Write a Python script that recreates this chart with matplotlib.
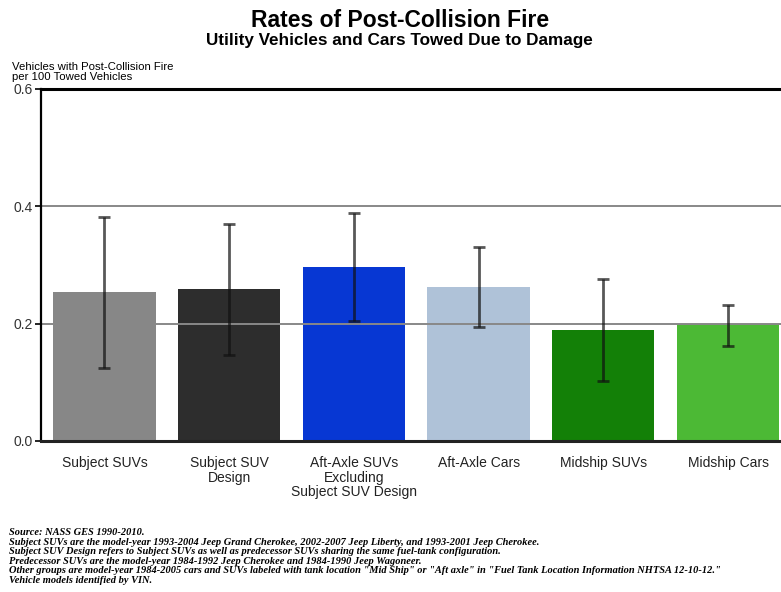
import numpy as np
import matplotlib
matplotlib.use('Agg')
import matplotlib.pyplot as plt

# 数据
categories = ['Subject SUVs', 'Subject SUV\nDesign',
              'Aft-Axle SUVs\nExcluding\nSubject SUV Design',
              'Aft-Axle Cars', 'Midship SUVs', 'Midship Cars']
rates = [0.254, 0.259, 0.297, 0.263, 0.190, 0.199]
err_low = [0.125, 0.147, 0.205, 0.194, 0.102, 0.162]
err_high = [0.382, 0.370, 0.389, 0.330, 0.276, 0.231]
bar_colors = ['#878787', '#2d2d2d', '#0737d3', '#afc2d8', '#138007', '#4cb935']
yticks = [0.0, 0.2, 0.4, 0.6]

notes = [
    'Source: NASS GES 1990-2010.',
    'Subject SUVs are the model-year 1993-2004 Jeep Grand Cherokee, 2002-2007 Jeep Liberty, and 1993-2001 Jeep Cherokee.',
    'Subject SUV Design refers to Subject SUVs as well as predecessor SUVs sharing the same fuel-tank configuration.',
    'Predecessor SUVs are the model-year 1984-1992 Jeep Cherokee and 1984-1990 Jeep Wagoneer.',
    'Other groups are model-year 1984-2005 cars and SUVs labeled with tank location "Mid Ship" or "Aft axle" in "Fuel Tank Location Information NHTSA 12-10-12."',
    'Vehicle models identified by VIN.',
]

plt.rcParams['font.family'] = ['Liberation Sans', 'DejaVu Sans']

fig = plt.figure(figsize=(7.81, 5.92), dpi=100)
ax = fig.add_axes([0.0525, 0.2551, 0.959, 0.5946])

x = np.arange(len(categories))
rates = np.array(rates)
yerr = np.array([rates - np.array(err_low), np.array(err_high) - rates])

ax.bar(x, rates, width=0.82, color=bar_colors, zorder=1)
for v in [0.2, 0.4]:
    ax.axhline(v, color='#888888', lw=1.4, zorder=2)
ax.errorbar(x, rates, yerr=yerr, fmt='none', ecolor='#111111', alpha=0.7,
            elinewidth=2, capsize=4, capthick=2, zorder=3)

ax.set_xlim(-0.509, 5.497)
ax.set_ylim(0, 0.6)
ax.set_yticks(yticks)
ax.set_yticklabels(['%.1f' % t for t in yticks], fontsize=10, color='#333333')
ax.set_xticks(x)
ax.set_xticklabels(categories, fontsize=10, linespacing=1.05, color='#222222')
ax.tick_params(axis='x', length=0, pad=11)
ax.tick_params(axis='y', length=4, width=1.2, pad=2)

ax.spines['right'].set_visible(False)
ax.spines['top'].set_linewidth(2.2)
ax.spines['left'].set_linewidth(1.6)
ax.spines['bottom'].set_linewidth(2.2)
ax.spines['bottom'].set_color('#222222')

fig.text(0.512, 0.965, 'Rates of Post-Collision Fire', ha='center', va='center',
         fontsize=16.5, fontweight='bold')
fig.text(0.512, 0.931, 'Utility Vehicles and Cars Towed Due to Damage',
         ha='center', va='center', fontsize=12.3, fontweight='bold')
fig.text(0.015, 0.878, 'Vehicles with Post-Collision Fire\nper 100 Towed Vehicles',
         ha='left', va='center', fontsize=8.2, linespacing=0.95)

fig.text(0.012, 0.108, '\n'.join(notes), ha='left', va='top', fontsize=7.5,
         family='Liberation Serif', style='italic', fontweight='bold',
         linespacing=1.08)

fig.savefig('out.png', dpi=100)
